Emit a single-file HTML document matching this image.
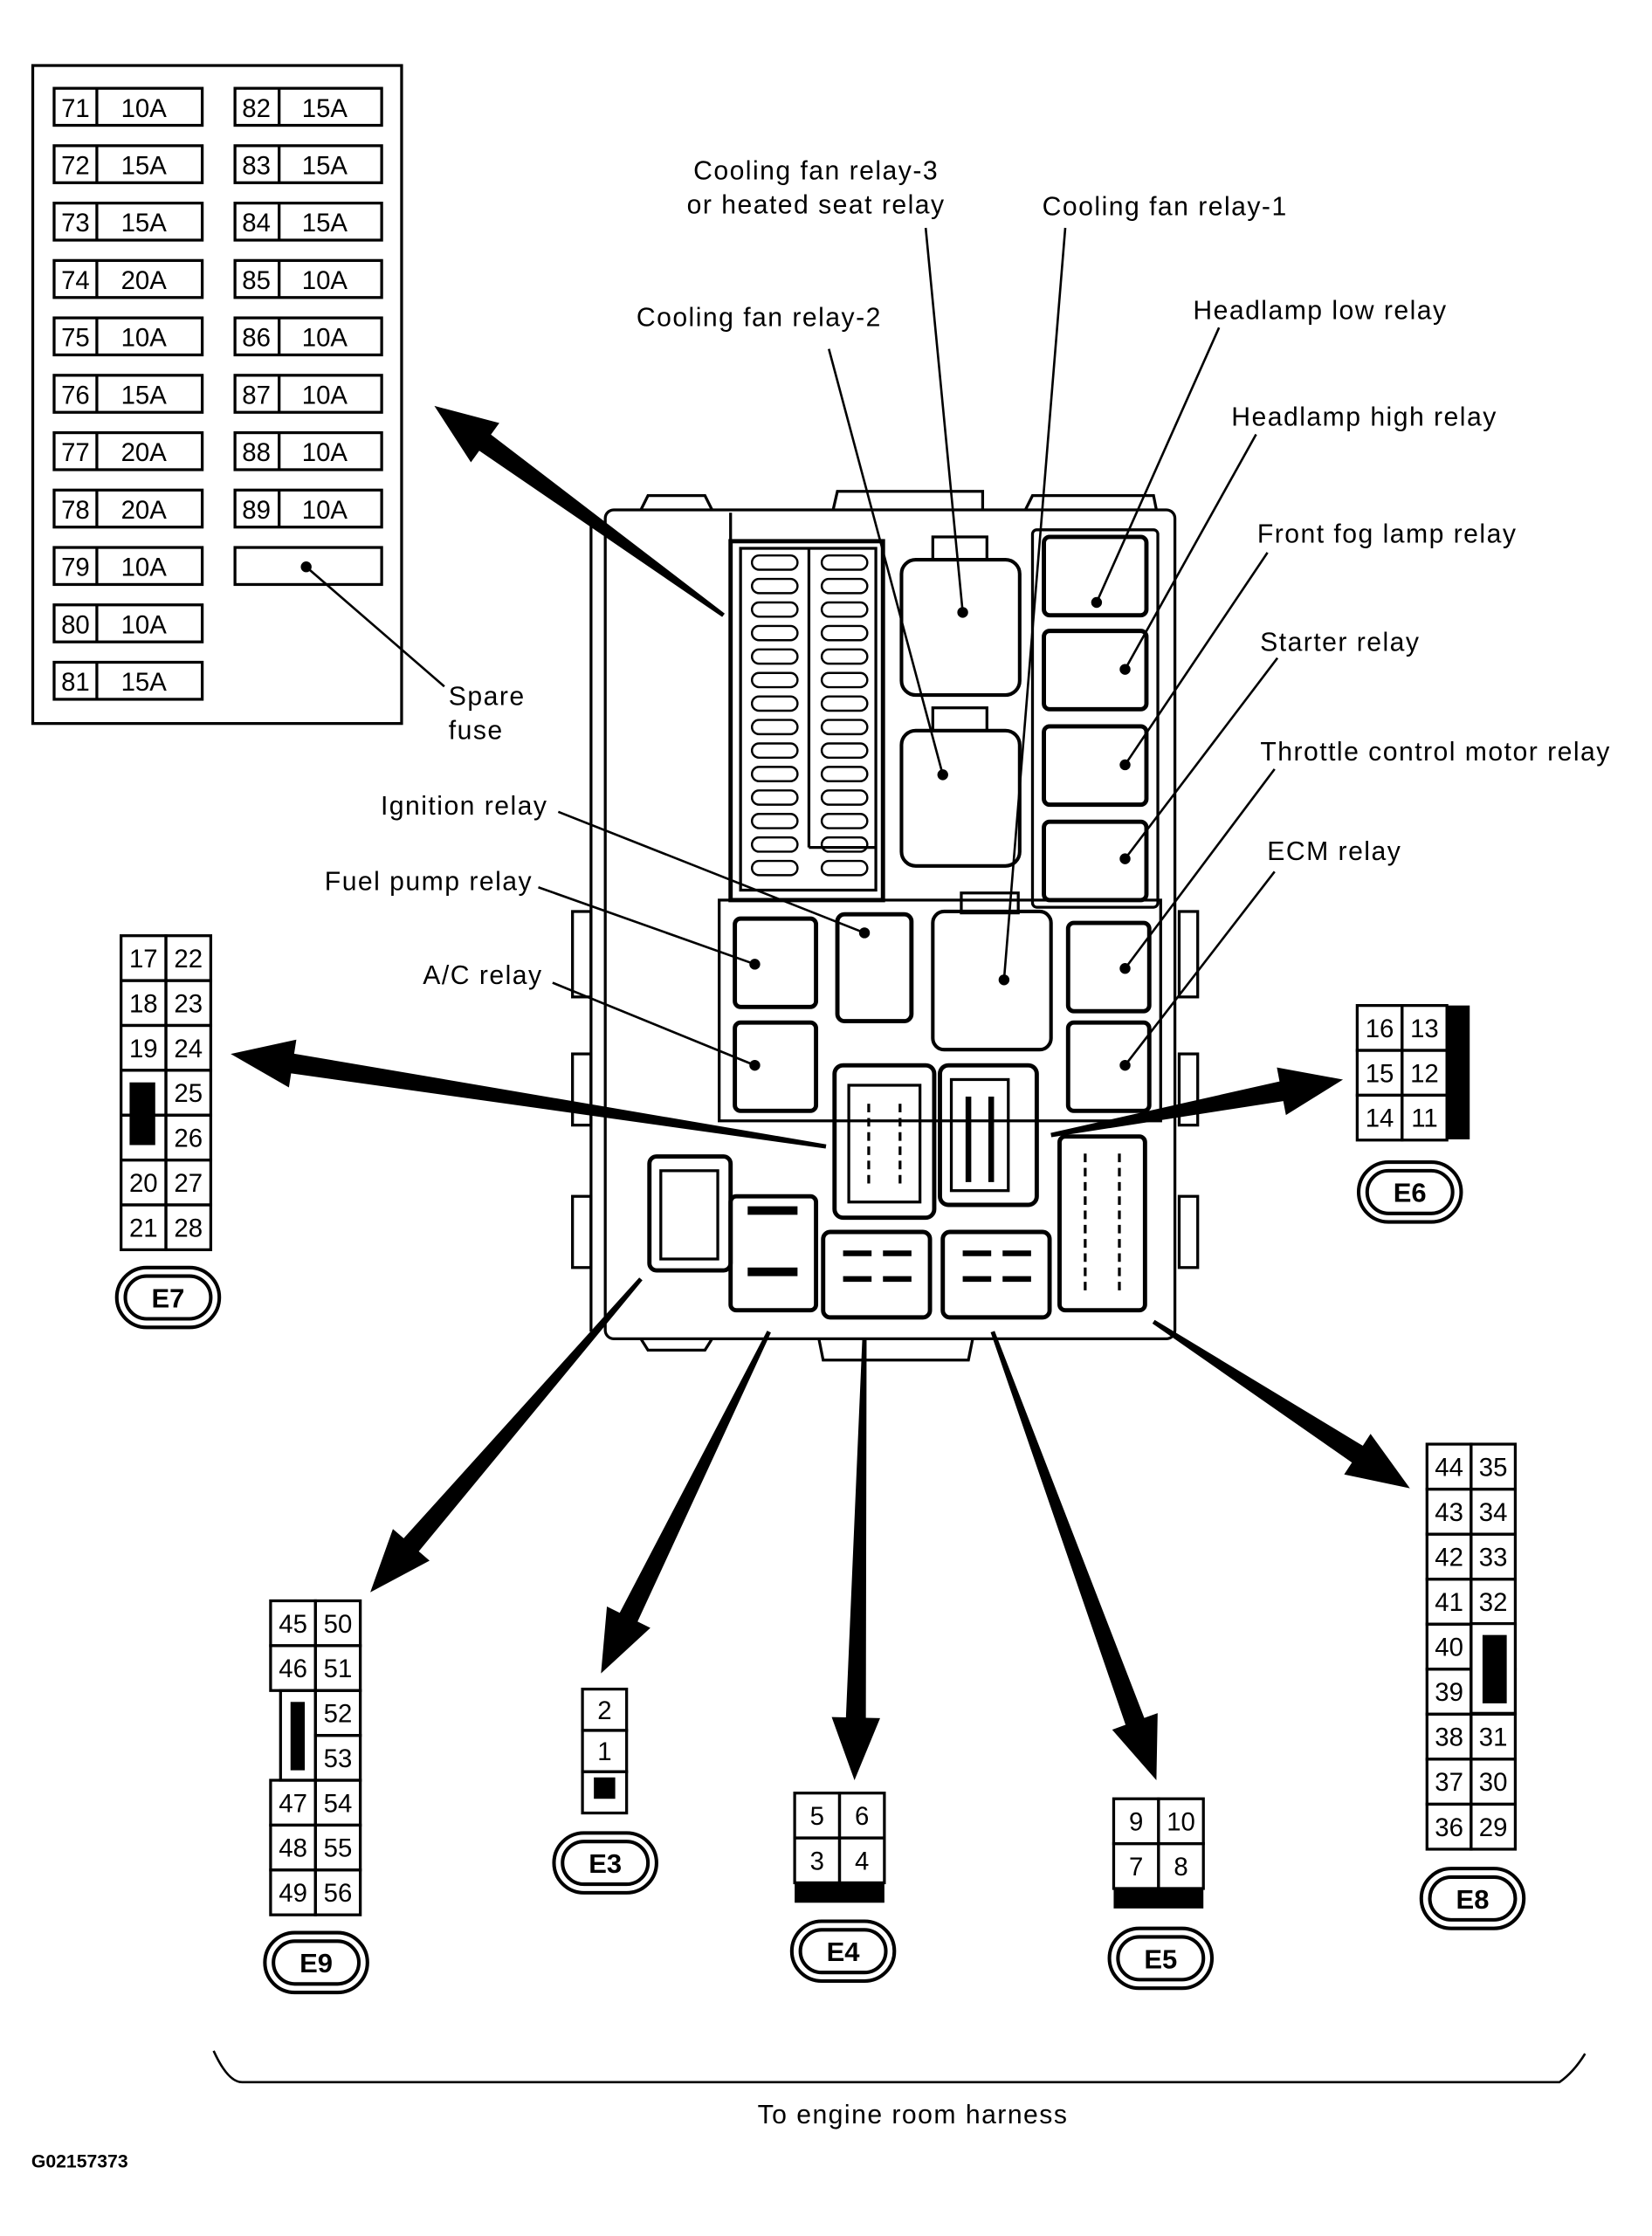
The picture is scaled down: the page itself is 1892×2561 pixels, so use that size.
<!DOCTYPE html>
<html><head><meta charset="utf-8"><style>
html,body{margin:0;padding:0;background:#fff}
svg{display:block}
text{font-family:"Liberation Sans",sans-serif;fill:#000}
.lb text{letter-spacing:0.9px}
</style></head><body>
<svg id="s" width="1892" height="2561" viewBox="0 0 1160 1570" preserveAspectRatio="none" xmlns="http://www.w3.org/2000/svg">
<g fill="none" stroke="#000" stroke-width="2">
<rect x="23" y="46" width="259" height="462"/>
</g>
<g id="fuses" font-size="18"></g>
<g fill="none" stroke="#000" stroke-width="2" id="box">
<rect x="425" y="358" width="400" height="582" rx="6"/>
<line x1="415" y1="360" x2="415" y2="935"/>
<line x1="513" y1="360" x2="513" y2="632"/>
<path d="M450 358 L455 348 L495 348 L500 358"/>
<path d="M585 358 L588 345 L690 345 L690 358"/>
<path d="M720 358 L725 348 L810 348 L812 358"/>
<path d="M575 940 L578 955 L680 955 L683 940"/>
<path d="M450 940 L455 948 L495 948 L500 940"/>
<rect x="513" y="380" width="107" height="252" stroke-width="3"/>
<rect x="520" y="385" width="95" height="240"/>
<line x1="568" y1="385" x2="568" y2="595"/>
<line x1="568" y1="595" x2="615" y2="595"/>
<rect x="633" y="393" width="83" height="95" rx="10" stroke-width="2.5"/>
<rect x="633" y="513" width="83" height="95" rx="10" stroke-width="2.5"/>
<rect x="655" y="377" width="38" height="16"/>
<rect x="655" y="497" width="38" height="16"/>
<rect x="733" y="377" width="72" height="55" rx="4" stroke-width="3"/>
<rect x="733" y="443" width="72" height="55" rx="4" stroke-width="3"/>
<rect x="733" y="510" width="72" height="55" rx="4" stroke-width="3"/>
<rect x="733" y="577" width="72" height="55" rx="4" stroke-width="3"/>
<rect x="725" y="372" width="88" height="265" rx="3"/>
<rect x="505" y="632" width="310" height="155"/>
<rect x="516" y="645" width="57" height="62" rx="4" stroke-width="3"/>
<rect x="516" y="718" width="57" height="62" rx="4" stroke-width="3"/>
<rect x="588" y="642" width="52" height="75" rx="5" stroke-width="3"/>
<rect x="655" y="640" width="83" height="97" rx="8" stroke-width="2.5"/>
<rect x="675" y="627" width="40" height="14"/>
<rect x="750" y="648" width="57" height="62" rx="4" stroke-width="3"/>
<rect x="750" y="718" width="57" height="62" rx="4" stroke-width="3"/>
<rect x="586" y="748" width="70" height="107" rx="6" stroke-width="3"/>
<rect x="596" y="762" width="50" height="82"/>
<rect x="660" y="748" width="68" height="98" rx="6" stroke-width="3"/>
<rect x="668" y="758" width="40" height="78"/>
<rect x="744" y="798" width="60" height="122" rx="4" stroke-width="3"/>
<rect x="456" y="812" width="57" height="80" rx="5" stroke-width="3"/>
<rect x="464" y="822" width="40" height="62"/>
<rect x="513" y="840" width="60" height="80" rx="4" stroke-width="3"/>
<rect x="578" y="865" width="75" height="60" rx="5" stroke-width="3"/>
<rect x="662" y="865" width="75" height="60" rx="5" stroke-width="3"/>
<line x1="525" y1="850" x2="560" y2="850" stroke-width="6"/>
<line x1="525" y1="893" x2="560" y2="893" stroke-width="6"/>
<line x1="592" y1="880" x2="612" y2="880" stroke-width="4"/><line x1="620" y1="880" x2="640" y2="880" stroke-width="4"/>
<line x1="592" y1="898" x2="612" y2="898" stroke-width="4"/><line x1="620" y1="898" x2="640" y2="898" stroke-width="4"/>
<line x1="676" y1="880" x2="696" y2="880" stroke-width="4"/><line x1="704" y1="880" x2="724" y2="880" stroke-width="4"/>
<line x1="676" y1="898" x2="696" y2="898" stroke-width="4"/><line x1="704" y1="898" x2="724" y2="898" stroke-width="4"/>
<line x1="680" y1="770" x2="680" y2="830" stroke-width="4"/><line x1="696" y1="770" x2="696" y2="830" stroke-width="4"/>
<line x1="610" y1="775" x2="610" y2="835" stroke-dasharray="6 4"/><line x1="632" y1="775" x2="632" y2="835" stroke-dasharray="6 4"/>
<line x1="762" y1="810" x2="762" y2="910" stroke-dasharray="6 4"/><line x1="786" y1="810" x2="786" y2="910" stroke-dasharray="6 4"/>
<rect x="402" y="640" width="13" height="60"/><rect x="402" y="740" width="13" height="50"/><rect x="402" y="840" width="13" height="50"/>
<rect x="828" y="640" width="13" height="60"/><rect x="828" y="740" width="13" height="50"/><rect x="828" y="840" width="13" height="50"/>
</g>
<g id="fovals" fill="none" stroke="#000" stroke-width="1.5"></g>
<g id="fuselist" fill="none" stroke="#000" stroke-width="2"></g>
<g id="leaders" stroke="#000" stroke-width="1.6" fill="#000"></g>
<g id="arrows" fill="#000"></g>
<g id="tables" font-size="18"></g>
<g font-size="18.5" class="lb">
<text x="573" y="126" text-anchor="middle">Cooling fan relay-3</text>
<text x="573" y="150" text-anchor="middle">or heated seat relay</text>
<text x="818" y="151" text-anchor="middle">Cooling fan relay-1</text>
<text x="533" y="229" text-anchor="middle">Cooling fan relay-2</text>
<text x="927" y="224" text-anchor="middle">Headlamp low relay</text>
<text x="958" y="299" text-anchor="middle">Headlamp high relay</text>
<text x="974" y="381" text-anchor="middle">Front fog lamp relay</text>
<text x="941" y="457" text-anchor="middle">Starter relay</text>
<text x="1008" y="534" text-anchor="middle">Throttle control motor relay</text>
<text x="937" y="604" text-anchor="middle">ECM relay</text>
<text x="326" y="572" text-anchor="middle">Ignition relay</text>
<text x="301" y="625" text-anchor="middle">Fuel pump relay</text>
<text x="339" y="691" text-anchor="middle">A/C relay</text>
<text x="315" y="495">Spare</text>
<text x="315" y="519">fuse</text>
<text x="641" y="1491" text-anchor="middle">To engine room harness</text>
</g>
<text x="22" y="1522" font-size="13" font-weight="bold">G02157373</text>
<path d="M150 1440 Q160 1462 170 1462 L1095 1462 Q1105 1455 1113 1442" fill="none" stroke="#000" stroke-width="1.6"/>
<script>
var NS="http://www.w3.org/2000/svg";
function el(p,t,a,txt){var e=document.createElementNS(NS,t);for(var k in a)e.setAttribute(k,a[k]);if(txt!=null)e.textContent=txt;document.getElementById(p).appendChild(e);return e;}
for(var y=390;y<620;y+=16.5){el("fovals","rect",{x:528,y:y,width:32,height:10,rx:5});if(y<600||true)el("fovals","rect",{x:577,y:y,width:32,height:10,rx:5});}
var L=[["71","10A"],["72","15A"],["73","15A"],["74","20A"],["75","10A"],["76","15A"],["77","20A"],["78","20A"],["79","10A"],["80","10A"],["81","15A"]];
var R=[["82","15A"],["83","15A"],["84","15A"],["85","10A"],["86","10A"],["87","10A"],["88","10A"],["89","10A"]];
for(var i=0;i<11;i++){var y=62+i*40.3;
 el("fuselist","rect",{x:38,y:y,width:104,height:26});el("fuselist","line",{x1:68,y1:y,x2:68,y2:y+26});
 el("fuses","text",{x:53,y:y+20,"text-anchor":"middle"},L[i][0]);el("fuses","text",{x:101,y:y+20,"text-anchor":"middle"},L[i][1]);}
for(var i=0;i<9;i++){var y=62+i*40.3;el("fuselist","rect",{x:165,y:y,width:103,height:26});
 if(i<8){el("fuselist","line",{x1:196,y1:y,x2:196,y2:y+26});
 el("fuses","text",{x:180,y:y+20,"text-anchor":"middle"},R[i][0]);el("fuses","text",{x:228,y:y+20,"text-anchor":"middle"},R[i][1]);}}
var ld=[[650,160,676,430],[748,160,705,688],[582,245,662,544],[856,230,770,423],[882,305,790,470],[890,388,790,537],[897,462,790,603],[895,540,790,680],[895,612,790,748],[392,570,607,655],[378,623,530,677],[388,690,530,748],[312,482,215,398]];
ld.forEach(function(l){el("leaders","line",{x1:l[0],y1:l[1],x2:l[2],y2:l[3]});el("leaders","circle",{cx:l[2],cy:l[3],r:3});});
function arrow(tx,ty,hx,hy){var dx=hx-tx,dy=hy-ty,len=Math.hypot(dx,dy),ux=dx/len,uy=dy/len,px=-uy,py=ux;
 var hl=44,bx=hx-ux*hl,by=hy-uy*hl,w0=1.5,w1=7,hw=17;
 var pts=[[tx+px*w0,ty+py*w0],[bx+px*w1,by+py*w1],[bx+px*hw,by+py*hw],[hx,hy],[bx-px*hw,by-py*hw],[bx-px*w1,by-py*w1],[tx-px*w0,ty-py*w0]];
 el("arrows","polygon",{points:pts.map(function(p){return p[0]+","+p[1]}).join(" ")});}
arrow(508,432,305,285);arrow(580,805,162,740);arrow(738,797,943,758);arrow(450,898,260,1118);
arrow(540,935,422,1175);arrow(607,940,600,1250);arrow(697,935,812,1250);arrow(810,928,990,1045);
function tbl(x,y,cw,rh,rows){rows.forEach(function(r,i){r.forEach(function(c,j){var yy=y+i*rh,xx=x+j*cw;
 if(c===null)return; el("tables","rect",{x:xx,y:yy,width:cw,height:rh,fill:"none",stroke:"#000","stroke-width":2});
 if(c!=="")el("tables","text",{x:xx+cw/2,y:yy+rh/2+6.5,"text-anchor":"middle"},c);});});}
function blk(x,y,w,h){el("tables","rect",{x:x,y:y,width:w,height:h,fill:"#000"});}
function badge(cx,cy,t){el("tables","rect",{x:cx-36,y:cy-21,width:72,height:42,rx:21,fill:"none",stroke:"#000","stroke-width":2.5});
 el("tables","rect",{x:cx-30,y:cy-15,width:60,height:30,rx:15,fill:"none",stroke:"#000","stroke-width":2.5});
 el("tables","text",{x:cx,y:cy+7,"text-anchor":"middle","font-weight":"bold","font-size":19},t);}
tbl(85,657,31.5,31.5,[["17","22"],["18","23"],["19","24"],["","25"],["","26"],["20","27"],["21","28"]]);
blk(91,760,18,44);badge(118,911,"E7");
tbl(953,706,31.5,31.5,[["16","13"],["15","12"],["14","11"]]);blk(1016,706,16,94);badge(990,837,"E6");
tbl(190,1124,31.5,31.5,[["45","50"],["46","51"],[null,"52"],[null,"53"],["47","54"],["48","55"],["49","56"]]);
el("tables","rect",{x:197,y:1187,width:24.5,height:63,fill:"none",stroke:"#000","stroke-width":2});blk(204,1195,10,48);badge(222,1378,"E9");
tbl(409,1186,31,29,[["2"],["1"],[""]]);blk(417,1248,15,15);badge(425,1308,"E3");
tbl(558,1259,31.5,31.5,[["5","6"],["3","4"]]);blk(558,1322,63,14);badge(592,1370,"E4");
tbl(782,1263,31.5,31.5,[["9","10"],["7","8"]]);blk(782,1326,63,14);badge(815,1375,"E5");
tbl(1002,1014,31,31.6,[["44","35"],["43","34"],["42","33"],["41","32"],["40",""],["39",""],["38","31"],["37","30"],["36","29"]]);
el("tables","rect",{x:1033,y:1140,width:31,height:63,fill:"#fff",stroke:"#000","stroke-width":2});blk(1041,1148,17,48);badge(1034,1333,"E8");
</script>
</svg>
</body></html>
